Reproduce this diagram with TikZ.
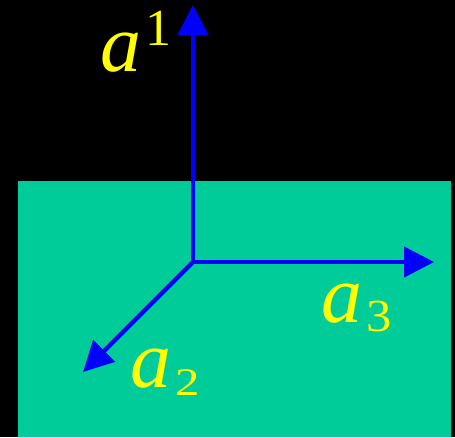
\documentclass[tikz,border=0pt]{standalone}
\usepackage{fontspec}
\setmainfont{Liberation Serif}
\usepackage{tikz}
\usetikzlibrary{arrows.meta,positioning}

\definecolor{sheetgreen}{RGB}{0,204,153}
\definecolor{axisblue}{RGB}{0,0,255}
\definecolor{labelyellow}{RGB}{255,255,0}

\tikzset{
  axis/.style={draw=axisblue,line width=4.5pt,-{Triangle[length=30pt,width=30pt]}},
  veclabel/.style={text=labelyellow,inner sep=0pt,anchor=base west}
}

\begin{document}
\begin{tikzpicture}[x=1pt,y=-1pt]
  % background and the plane
  \fill[black] (0,0) rectangle (455,437);
  \useasboundingbox (0,0) rectangle (455,437);
  \fill[sheetgreen] (18,181) rectangle (451,437);
  % basis vectors
  \coordinate (o) at (193,262);
  \coordinate (e1) at (193,5);
  \coordinate (e2) at (83,372);
  \coordinate (e3) at (434,262);
  \draw[axis] (o) -- (e1);
  \draw[axis] (o) -- (e3);
  \draw[axis] (o) -- (e2);
  % labels
  \node[veclabel] (a1) at (100,71) {{\fontsize{82}{82}\selectfont\itshape a}\hspace{4pt}\raisebox{26pt}{\fontsize{52}{52}\selectfont 1}};
  \node[veclabel] (a2) at (130,387) {{\fontsize{82}{82}\selectfont\itshape a}\hspace{4pt}\raisebox{-8pt}{\scalebox{1.25}[1]{\fontsize{39}{39}\selectfont 2}}};
  \node[veclabel] (a3) at (321,322) {{\fontsize{82}{82}\selectfont\itshape a}\hspace{4pt}\raisebox{-9pt}{\scalebox{1.1}[1]{\fontsize{46}{46}\selectfont 3}}};
\end{tikzpicture}
\end{document}
